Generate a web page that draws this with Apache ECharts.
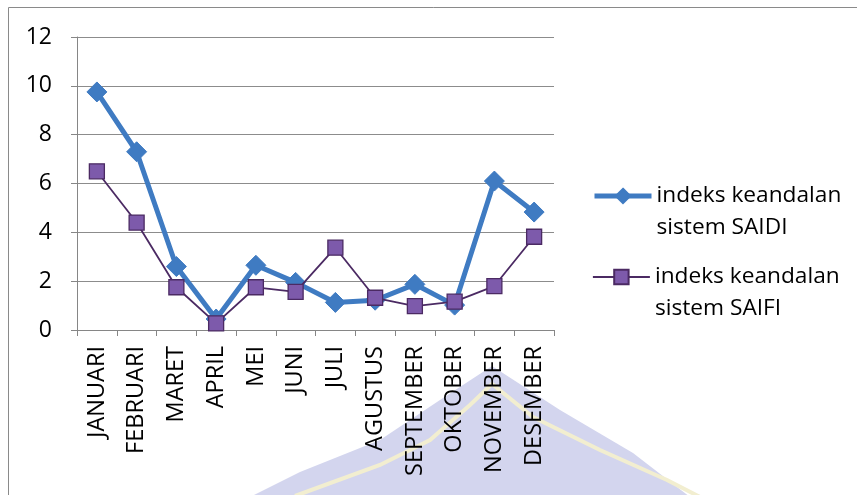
<!DOCTYPE html>
<html>
<head>
<meta charset="utf-8">
<script src="https://cdn.jsdelivr.net/npm/echarts@6/dist/echarts.min.js"></script>
<style>html,body{margin:0;padding:0;background:#fff;}#c{width:857px;height:495px;}</style>
</head>
<body>
<div id="c"></div>
<script>
var categories = ['JANUARI','FEBRUARI','MARET','APRIL','MEI','JUNI','JULI','AGUSTUS','SEPTEMBER','OKTOBER','NOVEMBER','DESEMBER'];
var saidi = [9.75, 7.3, 2.6, 0.45, 2.65, 1.95, 1.13, 1.22, 1.87, 1.02, 6.1, 4.83];
var saifi = [6.5, 4.4, 1.75, 0.27, 1.75, 1.56, 3.37, 1.32, 0.98, 1.16, 1.8, 3.82];
var yTicks = [0, 2, 4, 6, 8, 10, 12];
var nameSaidi = 'indeks keandalan sistem SAIDI';
var nameSaifi = 'indeks keandalan sistem SAIFI';

var FONT = 'Open Sans';
var legendText = {fontFamily: FONT, fontSize: 22.7, color: '#000', lineHeight: 32};
function splitName(n) { return '\n' + n.replace(' sistem', '\nsistem'); }

var chart = echarts.init(document.getElementById('c'), null, {renderer: 'canvas'});
chart.setOption({
  animation: false,
  backgroundColor: '#ffffff',
  textStyle: {fontFamily: FONT},
  graphic: [
    {type: 'polygon', z: -20, silent: true,
      shape: {points: [[492, 366], [440, 400], [380, 440], [300, 472], [250, 497], [690, 497], [633, 453], [560, 410]]},
      style: {fill: '#d3d5ee'}},
    {type: 'polyline', z: -19, silent: true,
      shape: {points: [[295, 496], [380, 465], [430, 440], [470, 405], [492, 384], [533, 417], [600, 450], [667, 480], [700, 497]]},
      style: {stroke: '#f2eed0', lineWidth: 4, fill: null}},
    {type: 'rect', z: -18, silent: true,
      shape: {x: 8.5, y: 7.5, width: 900, height: 600},
      style: {fill: null, stroke: '#8a8a8a', lineWidth: 1}}
  ],
  grid: {left: 77, right: 303, top: 37, bottom: 165, containLabel: false},
  legend: [
    {
      orient: 'vertical', left: 592, top: 148, padding: 0,
      itemWidth: 57, itemHeight: 18,
      data: [{name: nameSaidi, lineStyle: {width: 5, color: '#3f7bc2'}}],
      formatter: splitName,
      textStyle: legendText
    },
    {
      orient: 'vertical', left: 592, top: 229, padding: 0,
      itemWidth: 57, itemHeight: 18,
      data: [{name: nameSaifi, lineStyle: {width: 1.8, color: '#4b2a63'}}],
      formatter: splitName,
      textStyle: legendText
    }
  ],
  xAxis: {
    type: 'category',
    data: categories,
    boundaryGap: true,
    axisLine: {lineStyle: {color: '#868686', width: 1}},
    axisTick: {show: true, interval: 0, length: 6, lineStyle: {color: '#868686'}},
    axisLabel: {interval: 0, rotate: 90, fontSize: 23.5, color: '#000', margin: 16, fontFamily: FONT}
  },
  yAxis: {
    type: 'value',
    min: yTicks[0],
    max: yTicks[yTicks.length - 1],
    interval: 2,
    axisLine: {show: true, lineStyle: {color: '#868686', width: 1}},
    axisTick: {show: true, length: 6, lineStyle: {color: '#868686'}},
    splitLine: {show: true, lineStyle: {color: '#8c8c8c', width: 1}},
    axisLabel: {fontSize: 23, color: '#000', margin: 25, fontFamily: FONT}
  },
  series: [
    {
      name: nameSaidi,
      type: 'line',
      data: saidi,
      symbol: 'diamond',
      symbolSize: 20,
      lineStyle: {color: '#3f7bc2', width: 5},
      itemStyle: {color: '#3f7bc2', borderColor: '#3f7bc2', borderWidth: 1},
      z: 2
    },
    {
      name: nameSaifi,
      type: 'line',
      data: saifi,
      symbol: 'rect',
      symbolSize: 15,
      lineStyle: {color: '#4b2a63', width: 1.8},
      itemStyle: {color: '#7d5aab', borderColor: '#4b2a63', borderWidth: 1.3},
      z: 3
    }
  ]
});
</script>
</body>
</html>
